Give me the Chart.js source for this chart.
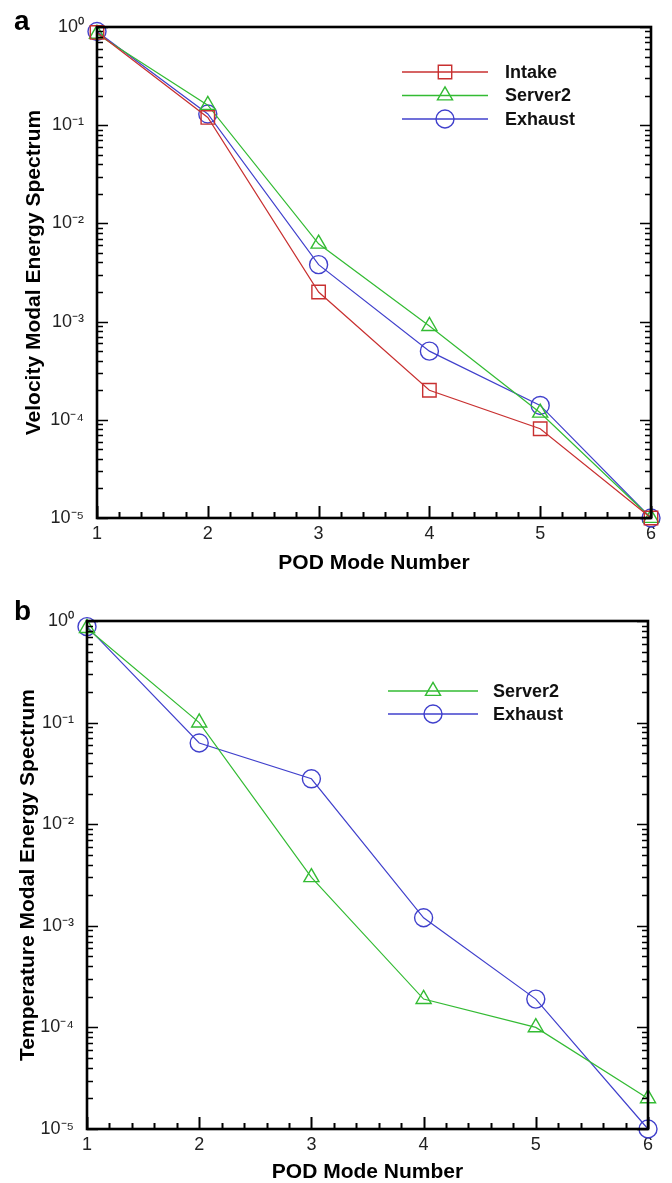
<!DOCTYPE html>
<html>
<head>
<meta charset="utf-8">
<script src="https://cdn.jsdelivr.net/npm/chart.js@4.4.1/dist/chart.umd.min.js"></script>
<style>
html,body{margin:0;padding:0;background:#fff;}
#wrap{position:relative;width:672px;height:1183px;overflow:hidden;}
canvas{position:absolute;left:0;}
</style>
</head>
<body>
<div id="wrap">
<canvas id="ca" width="672" height="592" style="top:0px;width:672px;height:592px"></canvas>
<canvas id="cb" width="672" height="591" style="top:592px;width:672px;height:591px"></canvas>
</div>
<script>
// ---- data ----
const modes = [1, 2, 3, 4, 5, 6];
const velIntake  = [0.88, 0.12, 0.0020, 0.00020, 0.000081, 0.00001];
const velServer2 = [0.85, 0.16, 0.0062, 0.00090, 0.000118, 0.00001];
const velExhaust = [0.90, 0.13, 0.0038, 0.00050, 0.000140, 0.00001];
const tempServer2 = [0.85, 0.10, 0.0030, 0.00019, 0.000100, 0.000020];
const tempExhaust = [0.88, 0.063, 0.028, 0.0012, 0.000190, 0.00001];
const yTickValues = [1e-5, 1e-4, 1e-3, 1e-2, 1e-1, 1];
const yTickLabels = ['10\u207B\u2075', '10\u207B\u2074', '10\u207B\u00B3', '10\u207B\u00B2', '10\u207B\u00B9', '10\u2070'];
const xTickValues = [1, 2, 3, 4, 5, 6];
const xTickLabels = ['1', '2', '3', '4', '5', '6'];

const RED = '#c83030', GREEN = '#33bb33', BLUE = '#4040cc';
const FONT = "'Liberation Sans', Arial, sans-serif";

function mkData(arr) { return modes.map((m, i) => ({x: m, y: arr[i]})); }

function ds(label, arr, color, style, radius) {
  return {
    label: label, data: mkData(arr), borderColor: color, backgroundColor: 'rgba(0,0,0,0)',
    borderWidth: 1.2, pointStyle: style, pointRadius: radius, pointHoverRadius: radius,
    pointBorderColor: color, pointBorderWidth: 1.4, pointBackgroundColor: 'rgba(0,0,0,0)',
    tension: 0, clip: false
  };
}

function framePlugin(cfg) {
  return {
    id: 'frame',
    afterDatasetsDraw(chart) {
      const ctx = chart.ctx, a = chart.chartArea;
      const xs = chart.scales.x, ys = chart.scales.y;
      ctx.save();
      ctx.strokeStyle = '#000';
      ctx.lineWidth = 1.6;
      ctx.beginPath();
      for (let d = -5; d <= 0; d++) {
        for (let m = 1; m <= 9; m++) {
          const v = m * Math.pow(10, d);
          if (v > 1.0000001) break;
          const py = Math.round(ys.getPixelForValue(v)) + 0.5;
          const len = (m === 1) ? 11 : 6;
          ctx.moveTo(a.left, py); ctx.lineTo(a.left + len, py);
          ctx.moveTo(a.right, py); ctx.lineTo(a.right - len, py);
        }
      }
      ctx.stroke();
      ctx.beginPath();
      for (let k = 0; k <= 25; k++) {
        const v = 1 + k * 0.2;
        const px = Math.round(xs.getPixelForValue(v)) + 0.5;
        const len = (k % 5 === 0) ? 12 : 6;
        ctx.moveTo(px, a.bottom); ctx.lineTo(px, a.bottom - len);
      }
      ctx.lineWidth = 2;
      ctx.stroke();
      ctx.lineWidth = 2.6;
      ctx.strokeRect(a.left, a.top, a.right - a.left, a.bottom - a.top);
      ctx.fillStyle = '#000';
      ctx.font = "bold 28px " + FONT;
      ctx.textBaseline = 'alphabetic';
      ctx.textAlign = 'left';
      ctx.fillText(cfg.letter, cfg.letterX, cfg.letterY);
      ctx.font = "bold 18px " + FONT;
      ctx.textBaseline = 'middle';
      chart.data.datasets.forEach((d, i) => {
        const y = cfg.legY + i * cfg.legDy;
        ctx.strokeStyle = d.borderColor;
        ctx.fillStyle = 'rgba(0,0,0,0)';
        ctx.lineWidth = 1.4;
        ctx.beginPath();
        ctx.moveTo(cfg.legX0, y); ctx.lineTo(cfg.legX1, y);
        ctx.stroke();
        ctx.lineWidth = 1.4;
        Chart.helpers.drawPoint(ctx, {pointStyle: d.pointStyle, radius: d.pointRadius, borderWidth: 1.4}, (cfg.legX0 + cfg.legX1) / 2, y);
        ctx.fillStyle = '#111';
        ctx.fillText(d.label, cfg.legTx, y + 1);
      });
      ctx.restore();
    }
  };
}

function makeChart(id, datasets, cfg) {
  const el = document.getElementById(id);
  return new Chart(el, {
    type: 'line',
    data: {datasets: datasets},
    options: {
      responsive: false, animation: false, devicePixelRatio: 1,
      layout: {padding: {top: cfg.top, right: 672 - cfg.right, left: 0, bottom: 0}},
      plugins: {legend: {display: false}, tooltip: {enabled: false}},
      scales: {
        x: {
          type: 'linear', min: 1, max: 6,
          afterBuildTicks(s) { s.ticks = xTickValues.map(v => ({value: v})); },
          afterFit(s) { s.height = cfg.h - cfg.bottom; },
          grid: {display: false}, border: {display: false},
          ticks: {
            color: '#222', font: {family: FONT, size: 18}, padding: -3,
            callback(v) { const i = xTickValues.indexOf(v); return i >= 0 ? xTickLabels[i] : ''; }
          },
          title: {display: true, text: 'POD Mode Number', color: '#000',
            font: {family: FONT, size: 21, weight: 'bold', lineHeight: 1}, padding: {top: 0, bottom: cfg.xTitlePad}}
        },
        y: {
          type: 'logarithmic', min: 1e-5, max: 1,
          afterBuildTicks(s) { s.ticks = yTickValues.map(v => ({value: v})); },
          afterFit(s) { s.width = cfg.left; },
          grid: {display: false}, border: {display: false},
          ticks: {
            color: '#222', font: {family: FONT, size: 18}, padding: 5,
            callback(v) { const i = yTickValues.findIndex(t => Math.abs(t - v) / t < 1e-6); return i >= 0 ? yTickLabels[i] : ''; }
          },
          title: {display: true, text: cfg.yTitle, color: '#000',
            font: {family: FONT, size: 21, weight: 'bold'}, padding: {top: cfg.yTitlePad, bottom: 0}}
        }
      }
    },
    plugins: [framePlugin(cfg)]
  });
}

makeChart('ca', [
  ds('Intake', velIntake, RED, 'rect', 9.5),
  ds('Server2', velServer2, GREEN, 'triangle', 8.7),
  ds('Exhaust', velExhaust, BLUE, 'circle', 9)
], {h: 592, left: 97, right: 651, top: 27, bottom: 518, xTitlePad: 18, yTitlePad: 22,
    yTitle: 'Velocity Modal Energy Spectrum', letter: 'a', letterX: 14, letterY: 30,
    legX0: 402, legX1: 488, legY: 72, legDy: 23.5, legTx: 505});

makeChart('cb', [
  ds('Server2', tempServer2, GREEN, 'triangle', 8.7),
  ds('Exhaust', tempExhaust, BLUE, 'circle', 9)
], {h: 591, left: 87, right: 648, top: 29, bottom: 537, xTitlePad: 0, yTitlePad: 16,
    yTitle: 'Temperature Modal Energy Spectrum', letter: 'b', letterX: 14, letterY: 28,
    legX0: 388, legX1: 478, legY: 99, legDy: 23, legTx: 493});
</script>
</body>
</html>
